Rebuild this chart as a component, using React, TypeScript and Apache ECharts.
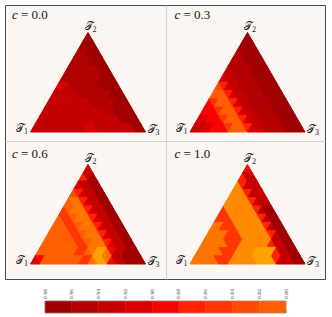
import React, { useEffect, useRef } from 'react';
import * as echarts from 'echarts';

// ---- data ----
const panelTitles = ['0.0', '0.3', '0.6', '1.0'];
const vertexNames = ['1', '2', '3'];
const cbTicks = [0.98, 0.96, 0.94, 0.92, 0.9, 0.88, 0.86, 0.84, 0.82, 0.8];
const binColors = ['#a00000', '#b30000', '#c50000', '#db0000', '#f50500', '#ff2200', '#ff3600', '#ff4a00', '#ff5f00', '#ff7400', '#ff8a00', '#ffa200'];

// rows of the triangular grid, top (T2) to bottom; each row i has 2i+1 cells, left (T1 side) to right (T3 side)
const c00 = [
  [0.97],
  [0.97, 0.97, 0.97],
  [0.95, 0.95, 0.97, 0.97, 0.97],
  [0.95, 0.95, 0.95, 0.95, 0.97, 0.97, 0.97],
  [0.95, 0.95, 0.95, 0.95, 0.95, 0.95, 0.95, 0.97, 0.97],
  [0.95, 0.95, 0.95, 0.95, 0.95, 0.95, 0.95, 0.95, 0.97, 0.97, 0.97],
  [0.91, 0.91, 0.93, 0.95, 0.95, 0.95, 0.95, 0.95, 0.95, 0.97, 0.97, 0.97, 0.97],
  [0.93, 0.93, 0.93, 0.93, 0.93, 0.95, 0.95, 0.95, 0.95, 0.95, 0.95, 0.95, 0.97, 0.97, 0.97],
  [0.93, 0.93, 0.93, 0.93, 0.93, 0.93, 0.93, 0.93, 0.93, 0.95, 0.95, 0.95, 0.95, 0.95, 0.97, 0.97, 0.97],
  [0.93, 0.93, 0.93, 0.93, 0.93, 0.93, 0.93, 0.93, 0.93, 0.93, 0.93, 0.93, 0.93, 0.95, 0.95, 0.97, 0.97, 0.97, 0.97],
  [0.93, 0.93, 0.93, 0.93, 0.93, 0.93, 0.93, 0.93, 0.93, 0.93, 0.93, 0.93, 0.93, 0.93, 0.93, 0.93, 0.93, 0.97, 0.97, 0.97, 0.97],
  [0.93, 0.93, 0.93, 0.93, 0.93, 0.93, 0.93, 0.93, 0.93, 0.93, 0.93, 0.91, 0.91, 0.93, 0.93, 0.93, 0.93, 0.93, 0.93, 0.93, 0.93, 0.97, 0.97],
];

const c03 = [
  [0.97],
  [0.97, 0.97, 0.97],
  [0.95, 0.97, 0.97, 0.97, 0.97],
  [0.95, 0.95, 0.95, 0.97, 0.97, 0.97, 0.97],
  [0.93, 0.95, 0.95, 0.95, 0.95, 0.97, 0.97, 0.97, 0.97],
  [0.91, 0.93, 0.93, 0.95, 0.95, 0.95, 0.95, 0.97, 0.97, 0.97, 0.97],
  [0.83, 0.87, 0.91, 0.93, 0.93, 0.95, 0.95, 0.95, 0.95, 0.97, 0.97, 0.97, 0.97],
  [0.81, 0.81, 0.81, 0.87, 0.91, 0.93, 0.93, 0.95, 0.95, 0.95, 0.95, 0.97, 0.97, 0.97, 0.97],
  [0.89, 0.85, 0.81, 0.81, 0.81, 0.87, 0.91, 0.93, 0.93, 0.95, 0.95, 0.95, 0.95, 0.97, 0.97, 0.97, 0.97],
  [0.89, 0.89, 0.89, 0.85, 0.81, 0.81, 0.81, 0.87, 0.91, 0.93, 0.93, 0.95, 0.95, 0.95, 0.95, 0.97, 0.97, 0.97, 0.97],
  [0.91, 0.91, 0.89, 0.89, 0.89, 0.85, 0.81, 0.81, 0.81, 0.87, 0.91, 0.93, 0.93, 0.95, 0.95, 0.95, 0.95, 0.97, 0.97, 0.97, 0.97],
  [0.93, 0.93, 0.91, 0.91, 0.89, 0.89, 0.89, 0.85, 0.81, 0.81, 0.81, 0.87, 0.91, 0.93, 0.93, 0.95, 0.95, 0.95, 0.95, 0.97, 0.97, 0.97, 0.97],
];

const c06 = [
  [0.93],
  [0.87, 0.93, 0.97],
  [0.91, 0.93, 0.93, 0.97, 0.97],
  [0.83, 0.87, 0.91, 0.93, 0.93, 0.97, 0.97],
  [0.81, 0.79, 0.79, 0.87, 0.91, 0.93, 0.93, 0.97, 0.97],
  [0.85, 0.81, 0.79, 0.79, 0.79, 0.87, 0.91, 0.93, 0.93, 0.97, 0.97],
  [0.81, 0.85, 0.85, 0.81, 0.79, 0.79, 0.79, 0.87, 0.91, 0.93, 0.93, 0.97, 0.97],
  [0.81, 0.81, 0.81, 0.85, 0.85, 0.81, 0.79, 0.79, 0.79, 0.87, 0.91, 0.93, 0.93, 0.97, 0.97],
  [0.81, 0.81, 0.81, 0.81, 0.81, 0.85, 0.85, 0.81, 0.79, 0.79, 0.79, 0.87, 0.91, 0.93, 0.93, 0.97, 0.97],
  [0.81, 0.81, 0.81, 0.81, 0.81, 0.81, 0.81, 0.85, 0.85, 0.81, 0.79, 0.79, 0.79, 0.87, 0.91, 0.93, 0.93, 0.97, 0.97],
  [0.81, 0.81, 0.81, 0.81, 0.81, 0.81, 0.81, 0.81, 0.85, 0.85, 0.81, 0.79, 0.75, 0.75, 0.79, 0.89, 0.93, 0.93, 0.97, 0.97, 0.97],
  [0.91, 0.89, 0.81, 0.81, 0.81, 0.81, 0.81, 0.81, 0.81, 0.81, 0.85, 0.85, 0.79, 0.75, 0.75, 0.79, 0.89, 0.93, 0.93, 0.97, 0.97, 0.97, 0.97],
];

const c10 = [
  [0.89],
  [0.87, 0.93, 0.93],
  [0.77, 0.87, 0.93, 0.93, 0.93],
  [0.77, 0.77, 0.77, 0.87, 0.93, 0.93, 0.93],
  [0.77, 0.77, 0.77, 0.77, 0.77, 0.87, 0.93, 0.93, 0.93],
  [0.85, 0.77, 0.77, 0.77, 0.77, 0.77, 0.77, 0.87, 0.93, 0.97, 0.97],
  [0.85, 0.85, 0.85, 0.77, 0.77, 0.77, 0.77, 0.77, 0.77, 0.87, 0.93, 0.97, 0.97],
  [0.79, 0.79, 0.85, 0.85, 0.85, 0.77, 0.77, 0.77, 0.77, 0.77, 0.77, 0.87, 0.93, 0.97, 0.97],
  [0.79, 0.79, 0.79, 0.79, 0.85, 0.85, 0.85, 0.77, 0.77, 0.77, 0.77, 0.77, 0.77, 0.87, 0.93, 0.97, 0.97],
  [0.79, 0.79, 0.79, 0.79, 0.79, 0.85, 0.85, 0.85, 0.77, 0.77, 0.77, 0.77, 0.77, 0.77, 0.87, 0.93, 0.93, 0.97, 0.97],
  [0.79, 0.79, 0.79, 0.79, 0.79, 0.85, 0.85, 0.85, 0.77, 0.77, 0.77, 0.77, 0.75, 0.75, 0.75, 0.75, 0.87, 0.93, 0.93, 0.97, 0.97],
  [0.79, 0.79, 0.79, 0.79, 0.79, 0.85, 0.85, 0.85, 0.77, 0.77, 0.77, 0.77, 0.77, 0.75, 0.75, 0.75, 0.75, 0.87, 0.93, 0.93, 0.93, 0.97, 0.97],
];

const panels = [c00, c03, c06, c10];

// ---- layout ----
const TRI_W = 115;
const SQ = Math.sqrt(3) / 2;
const TRI_H = TRI_W * SQ;
const triLeft = [30.5, 190, 30.5, 190];
const triBase = [132, 132, 264, 264];
const titlePos = [[12, 14], [174.5, 14], [12, 153], [174.5, 153]];

function colorOf(v: number): string {
  let k = Math.floor((0.98 - v) / 0.02 + 1e-6);
  if (k < 0) k = 0;
  if (k > binColors.length - 1) k = binColors.length - 1;
  return binColors[k];
}

function buildOption() {
  const grid: any[] = [];
  const xAxis: any[] = [];
  const yAxis: any[] = [];
  const series: any[] = [];
  const graphic: any[] = [];

  graphic.push({
    type: 'rect', z: -10, silent: true,
    shape: { x: 5.5, y: 5.5, width: 320, height: 274 },
    style: { fill: '#fcf6f2', stroke: '#4a4a4a', lineWidth: 1 },
  });
  graphic.push({ type: 'line', z: -9, silent: true, shape: { x1: 166.5, y1: 5.5, x2: 166.5, y2: 279.5 }, style: { stroke: '#cfcfcf', lineWidth: 1 } });
  graphic.push({ type: 'line', z: -9, silent: true, shape: { x1: 5.5, y1: 141.5, x2: 325.5, y2: 141.5 }, style: { stroke: '#cfcfcf', lineWidth: 1 } });

  panels.forEach((rows, p) => {
    const N = rows.length;
    grid.push({ left: triLeft[p], top: triBase[p] - TRI_H, width: TRI_W, height: TRI_H });
    xAxis.push({ type: 'value', gridIndex: p, min: 0, max: 1, show: false });
    yAxis.push({ type: 'value', gridIndex: p, min: 0, max: SQ, show: false });
    const data: number[][] = [];
    rows.forEach((row, i) => row.forEach((v, j) => data.push([i, j, v])));
    series.push({
      type: 'custom',
      xAxisIndex: p,
      yAxisIndex: p,
      data,
      z: 2,
      renderItem: (params: any, api: any) => {
        const i = api.value(0);
        const j = api.value(1);
        const v = api.value(2);
        const pt = (u: number, t: number) => api.coord([0.5 + u / 2, (1 - t) * SQ]);
        let pts;
        if (j % 2 === 0) {
          const k = j / 2;
          pts = [
            pt((2 * k - i) / N, i / N),
            pt((2 * k - i - 1) / N, (i + 1) / N),
            pt((2 * k - i + 1) / N, (i + 1) / N),
          ];
        } else {
          const k = (j - 1) / 2;
          pts = [
            pt((2 * k - i) / N, i / N),
            pt((2 * k - i + 2) / N, i / N),
            pt((2 * k + 1 - i) / N, (i + 1) / N),
          ];
        }
        const col = colorOf(v);
        return { type: 'polygon', shape: { points: pts }, style: { fill: col, stroke: col, lineWidth: 1, lineJoin: 'round' } };
      },
    });

    const L = triLeft[p];
    const B = triBase[p];
    const R = L + TRI_W;
    const apexX = L + TRI_W / 2;
    const apexY = B - TRI_H;
    const tStyle = (name: string) => ({
      text: '{t|𝒯}{s|' + name + '}',
      rich: {
        t: { fontFamily: 'DejaVu Serif, DejaVu Sans, serif', fontSize: 11, fill: '#222' },
        s: { fontFamily: 'Liberation Serif, serif', fontSize: 8, fill: '#222', padding: [6, 0, 0, 0] },
      },
      align: 'center', verticalAlign: 'middle',
    });
    graphic.push({ type: 'text', z: 10, x: L - 8.5, y: B - 4, style: tStyle(vertexNames[0]) });
    graphic.push({ type: 'text', z: 10, x: apexX + 2.5, y: apexY - 5.5, style: tStyle(vertexNames[1]) });
    graphic.push({ type: 'text', z: 10, x: R + 8, y: B - 3, style: tStyle(vertexNames[2]) });
    graphic.push({
      type: 'text', z: 10, x: titlePos[p][0], y: titlePos[p][1],
      style: {
        text: '{i|c} = ' + panelTitles[p],
        fontFamily: 'Liberation Serif, serif', fontSize: 13, fill: '#111',
        verticalAlign: 'middle',
        rich: { i: { fontStyle: 'italic', fontFamily: 'Liberation Serif, serif', fontSize: 13, fill: '#111' } },
      },
    });
  });

  // colorbar
  const cbIndex = panels.length;
  grid.push({ left: 45, top: 301, width: 241, height: 12 });
  xAxis.push({
    type: 'value', gridIndex: cbIndex, min: 0.8, max: 0.98, interval: 0.02, inverse: true, position: 'top',
    axisLine: { show: false },
    axisTick: { show: true, length: 3, lineStyle: { color: '#888', width: 0.6 } },
    splitLine: { show: false },
    axisLabel: {
      rotate: 90, fontSize: 4.5, color: '#555', margin: 2, fontFamily: 'DejaVu Sans',
      showMinLabel: true, showMaxLabel: true,
      formatter: (v: number) => v.toFixed(2),
    },
  });
  yAxis.push({ type: 'value', gridIndex: cbIndex, min: 0, max: 1, show: false });
  const cbData: number[][] = [];
  for (let k = 0; k < cbTicks.length - 1; k++) cbData.push([cbTicks[k], cbTicks[k + 1]]);
  series.push({
    type: 'custom', xAxisIndex: cbIndex, yAxisIndex: cbIndex, data: cbData, z: 2,
    renderItem: (params: any, api: any) => {
      const hi = api.value(0);
      const lo = api.value(1);
      const a = api.coord([hi, 1]);
      const b = api.coord([lo, 0]);
      const col = colorOf((hi + lo) / 2);
      return {
        type: 'rect',
        shape: { x: Math.min(a[0], b[0]), y: Math.min(a[1], b[1]), width: Math.abs(b[0] - a[0]), height: Math.abs(b[1] - a[1]) },
        style: { fill: col, stroke: col, lineWidth: 0.4 },
      };
    },
  });
  graphic.push({
    type: 'rect', z: 5, silent: true,
    shape: { x: 45, y: 301, width: 241, height: 12 },
    style: { fill: 'none', stroke: '#999', lineWidth: 0.6 },
  });

  return { animation: false, backgroundColor: '#ffffff', grid, xAxis, yAxis, series, graphic };
}

export default function App() {
  const ref = useRef<HTMLDivElement>(null);
  useEffect(() => {
    if (!ref.current) return;
    const chart = echarts.init(ref.current, undefined, { renderer: 'svg' });
    chart.setOption(buildOption() as any);
    return () => chart.dispose();
  }, []);
  return <div ref={ref} style={{ position: 'fixed', left: 0, top: 0, width: 332, height: 317 }} />;
}
